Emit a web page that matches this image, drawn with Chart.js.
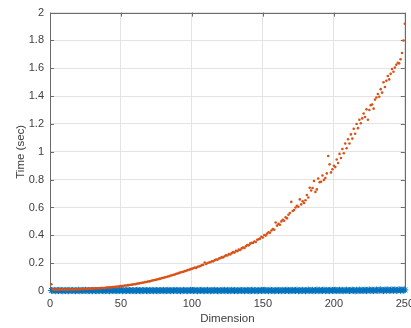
<!DOCTYPE html>
<html>
<head>
<meta charset="utf-8">
<script src="https://cdn.jsdelivr.net/npm/chart.js@4/dist/chart.umd.min.js"></script>
<style>
  html, body { margin: 0; padding: 0; background: #fff; overflow: hidden; }
  #wrap { width: 420px; height: 328px; position: relative; }
</style>
</head>
<body>
<div id="wrap"><canvas id="timeChart"></canvas></div>
<script>
// Dimension index (x axis), 1..250
const dims = Array.from({ length: 250 }, (_, i) => i + 1);

// Orange series: time (sec)
const timeSlow = [
  0.048, 0.012, 0.010, 0.011, 0.009, 0.010, 0.011, 0.010, 0.012, 0.010,
  0.010, 0.011, 0.010, 0.012, 0.011, 0.012, 0.011, 0.013, 0.012, 0.013,
  0.013, 0.014, 0.013, 0.015, 0.014, 0.015, 0.016, 0.015, 0.017, 0.017,
  0.018, 0.018, 0.019, 0.020, 0.020, 0.021, 0.022, 0.022, 0.023, 0.024,
  0.025, 0.026, 0.026, 0.028, 0.029, 0.030, 0.031, 0.032, 0.034, 0.035,
  0.036, 0.038, 0.039, 0.040, 0.042, 0.043, 0.045, 0.046, 0.048, 0.049,
  0.051, 0.054, 0.055, 0.057, 0.059, 0.061, 0.064, 0.065, 0.068, 0.069,
  0.072, 0.075, 0.077, 0.079, 0.082, 0.084, 0.087, 0.089, 0.093, 0.095,
  0.098, 0.101, 0.104, 0.106, 0.111, 0.113, 0.117, 0.119, 0.124, 0.126,
  0.130, 0.133, 0.137, 0.138, 0.143, 0.145, 0.150, 0.152, 0.157, 0.159,
  0.163, 0.168, 0.166, 0.174, 0.176, 0.180, 0.186, 0.188, 0.205, 0.194,
  0.201, 0.205, 0.207, 0.214, 0.213, 0.221, 0.226, 0.224, 0.234, 0.236,
  0.243, 0.241, 0.250, 0.256, 0.255, 0.265, 0.262, 0.272, 0.279, 0.276,
  0.288, 0.286, 0.297, 0.295, 0.306, 0.312, 0.309, 0.322, 0.330, 0.328,
  0.340, 0.346, 0.345, 0.356, 0.352, 0.368, 0.372, 0.376, 0.390, 0.384,
  0.402, 0.398, 0.412, 0.422, 0.418, 0.435, 0.445, 0.440, 0.492, 0.470,
  0.482, 0.476, 0.500, 0.512, 0.505, 0.530, 0.522, 0.548, 0.560, 0.640,
  0.575, 0.582, 0.600, 0.612, 0.605, 0.658, 0.622, 0.645, 0.632, 0.652,
  0.690, 0.672, 0.742, 0.722, 0.740, 0.790, 0.712, 0.730, 0.808, 0.782,
  0.785, 0.830, 0.798, 0.812, 0.845, 0.970, 0.910, 0.852, 0.875, 0.900,
  0.890, 0.945, 0.920, 0.985, 0.955, 1.020, 0.990, 1.060, 1.025, 1.090,
  1.060, 1.125, 1.095, 1.165, 1.130, 1.200, 1.170, 1.230, 1.205, 1.240,
  1.275, 1.250, 1.305, 1.230, 1.300, 1.335, 1.340, 1.310, 1.375, 1.390,
  1.415, 1.395, 1.450, 1.425, 1.500, 1.465, 1.510, 1.545, 1.520, 1.560,
  1.595, 1.575, 1.605, 1.625, 1.640, 1.635, 1.665, 1.710, 1.800, 1.920
];

// Blue series: time (sec), all close to zero
const timeFast = [
  0.004, 0.003, 0.005, 0.002, 0.004, 0.003, 0.005, 0.004, 0.002, 0.003,
  0.003, 0.004, 0.002, 0.005, 0.003, 0.004, 0.003, 0.002, 0.004, 0.005,
  0.002, 0.003, 0.004, 0.003, 0.005, 0.002, 0.004, 0.003, 0.004, 0.002,
  0.005, 0.003, 0.002, 0.004, 0.003, 0.005, 0.004, 0.002, 0.003, 0.004,
  0.003, 0.002, 0.004, 0.005, 0.003, 0.004, 0.002, 0.003, 0.005, 0.004,
  0.002, 0.004, 0.003, 0.003, 0.005, 0.004, 0.002, 0.004, 0.003, 0.002,
  0.004, 0.005, 0.003, 0.002, 0.004, 0.003, 0.005, 0.003, 0.002, 0.004,
  0.003, 0.004, 0.002, 0.005, 0.003, 0.002, 0.004, 0.004, 0.003, 0.005,
  0.002, 0.003, 0.005, 0.004, 0.002, 0.004, 0.003, 0.005, 0.004, 0.003,
  0.004, 0.002, 0.003, 0.005, 0.004, 0.003, 0.002, 0.004, 0.005, 0.003,
  0.003, 0.005, 0.004, 0.002, 0.003, 0.004, 0.005, 0.003, 0.002, 0.004,
  0.005, 0.003, 0.002, 0.004, 0.003, 0.005, 0.004, 0.003, 0.002, 0.004,
  0.003, 0.004, 0.005, 0.002, 0.004, 0.003, 0.002, 0.005, 0.004, 0.003,
  0.004, 0.002, 0.003, 0.005, 0.003, 0.004, 0.002, 0.004, 0.005, 0.003,
  0.002, 0.004, 0.005, 0.003, 0.004, 0.002, 0.003, 0.005, 0.004, 0.003,
  0.005, 0.003, 0.004, 0.002, 0.005, 0.004, 0.003, 0.002, 0.004, 0.005,
  0.003, 0.004, 0.002, 0.005, 0.003, 0.004, 0.006, 0.003, 0.002, 0.004,
  0.005, 0.003, 0.004, 0.006, 0.002, 0.004, 0.003, 0.005, 0.004, 0.002,
  0.004, 0.006, 0.003, 0.004, 0.005, 0.002, 0.004, 0.006, 0.003, 0.005,
  0.003, 0.004, 0.006, 0.002, 0.005, 0.004, 0.003, 0.006, 0.004, 0.003,
  0.005, 0.003, 0.004, 0.006, 0.003, 0.005, 0.002, 0.004, 0.006, 0.004,
  0.003, 0.005, 0.006, 0.004, 0.002, 0.005, 0.004, 0.006, 0.003, 0.005,
  0.004, 0.006, 0.003, 0.005, 0.007, 0.004, 0.006, 0.003, 0.005, 0.007,
  0.004, 0.006, 0.008, 0.005, 0.003, 0.007, 0.005, 0.008, 0.004, 0.006,
  0.007, 0.005, 0.008, 0.004, 0.006, 0.009, 0.005, 0.007, 0.006, 0.008
];

const xTicks = [0, 50, 100, 150, 200, 250];
const yTicks = [0, 0.2, 0.4, 0.6, 0.8, 1, 1.2, 1.4, 1.6, 1.8, 2];

const textColor = '#404040';
const fontFamily = "'Liberation Sans', Arial, sans-serif";

// MATLAB-like box with inward ticks on all four sides
const boxPlugin = {
  id: 'box',
  beforeDatasetsDraw(chart) {
    const { ctx, chartArea: a, scales: { x, y } } = chart;
    ctx.save();
    ctx.strokeStyle = '#6a6a6a';
    ctx.lineWidth = 1;
    ctx.beginPath();
    xTicks.forEach(v => {
      const px = Math.round(x.getPixelForValue(v)) + 0.5;
      ctx.moveTo(px, a.bottom); ctx.lineTo(px, a.bottom - 4);
      ctx.moveTo(px, a.top); ctx.lineTo(px, a.top + 4);
    });
    yTicks.forEach(v => {
      const py = Math.round(y.getPixelForValue(v)) + 0.5;
      ctx.moveTo(a.left, py); ctx.lineTo(a.left + 4, py);
      ctx.moveTo(a.right, py); ctx.lineTo(a.right - 4, py);
    });
    ctx.stroke();
    ctx.strokeRect(Math.round(a.left) + 0.5, Math.round(a.top) + 0.5,
      Math.round(a.right - a.left), Math.round(a.bottom - a.top));
    ctx.restore();
  }
};

const ctx = document.getElementById('timeChart').getContext('2d');
new Chart(ctx, {
  type: 'scatter',
  data: {
    datasets: [
      {
        label: 'slow',
        data: dims.map((d, i) => ({ x: d, y: timeSlow[i] })),
        backgroundColor: '#D95319',
        borderColor: '#D95319',
        pointRadius: 1.3,
        borderWidth: 0,
        clip: false
      },
      {
        label: 'fast',
        data: dims.map((d, i) => ({ x: d, y: timeFast[i] })),
        pointStyle: 'star',
        backgroundColor: '#0072BD',
        borderColor: '#0072BD',
        pointRadius: 3.5,
        borderWidth: 1,
        clip: false
      }
    ]
  },
  options: {
    responsive: true,
    maintainAspectRatio: false,
    animation: false,
    events: [],
    layout: { padding: { top: 11, left: 0, right: 0, bottom: 0 } },
    plugins: { legend: { display: false }, tooltip: { enabled: false } },
    scales: {
      x: {
        type: 'linear',
        min: 0,
        max: 250,
        afterBuildTicks: s => { s.ticks = xTicks.map(v => ({ value: v })); },
        afterFit: s => { s.height = 37; },
        grid: { color: '#e3e3e3', drawTicks: false },
        border: { display: false },
        ticks: { color: textColor, padding: 6, maxRotation: 0,
                 font: { family: fontFamily, size: 11 } },
        title: { display: true, text: 'Dimension', color: textColor,
                 padding: { top: 0, bottom: 2 },
                 font: { family: fontFamily, size: 11.5 } }
      },
      y: {
        min: 0,
        max: 2,
        afterBuildTicks: s => { s.ticks = yTicks.map(v => ({ value: v })); },
        afterFit: s => { s.width = 50; },
        grid: { color: '#e3e3e3', drawTicks: false },
        border: { display: false },
        ticks: { color: textColor, padding: 6,
                 font: { family: fontFamily, size: 11 },
                 callback: v => String(Number(v.toFixed(1))) },
        title: { display: true, text: 'Time (sec)', color: textColor,
                 padding: { top: 14, bottom: 0 },
                 font: { family: fontFamily, size: 11.5 } }
      }
    }
  },
  plugins: [boxPlugin]
});
</script>
</body>
</html>
